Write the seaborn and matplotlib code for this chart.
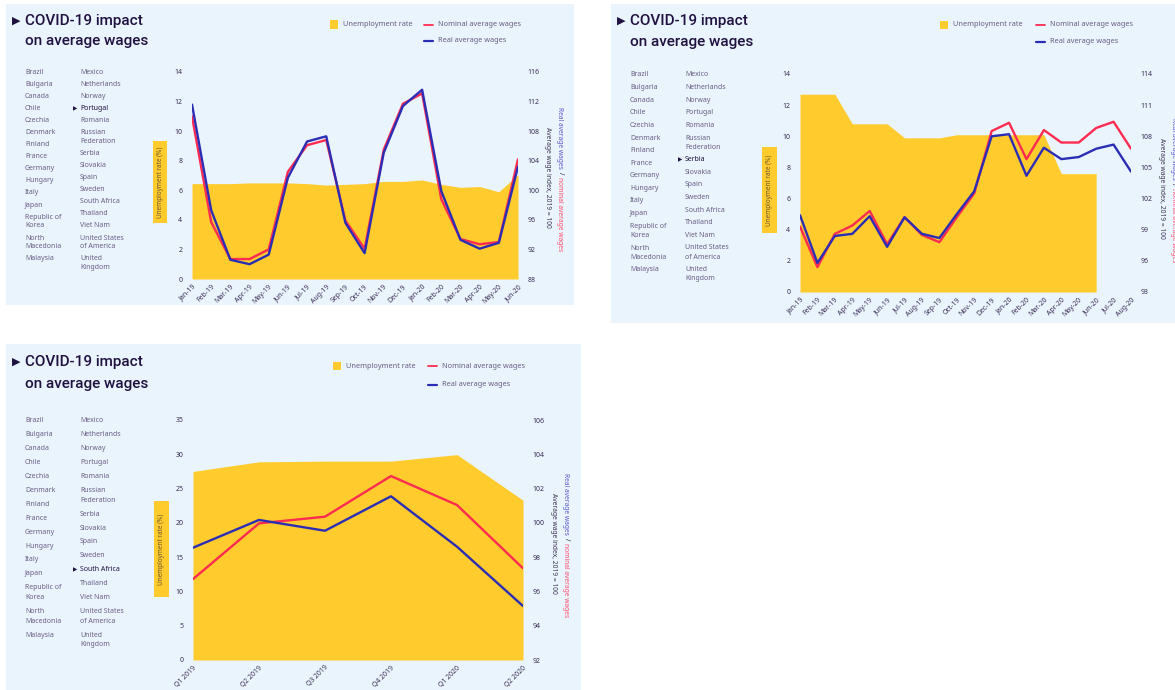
import numpy as np
import pandas as pd
import matplotlib
matplotlib.use("Agg")
import matplotlib.pyplot as plt
from matplotlib.patches import Rectangle
from matplotlib.lines import Line2D
import seaborn as sns

# ---------------- data ----------------
countries_col1 = ["Brazil", "Bulgaria", "Canada", "Chile", "Czechia", "Denmark", "Finland",
                  "France", "Germany", "Hungary", "Italy", "Japan", "Republic of\nKorea",
                  "North\nMacedonia", "Malaysia"]
countries_col2 = ["Mexico", "Netherlands", "Norway", "Portugal", "Romania", "Russian\nFederation",
                  "Serbia", "Slovakia", "Spain", "Sweden", "South Africa", "Thailand", "Viet Nam",
                  "United States\nof America", "United\nKingdom"]

# Portugal (monthly)
pt_months = ["Jan-19", "Feb-19", "Mar-19", "Apr-19", "May-19", "Jun-19", "Jul-19", "Aug-19",
             "Sep-19", "Oct-19", "Nov-19", "Dec-19", "Jan-20", "Feb-20", "Mar-20", "Apr-20",
             "May-20", "Jun-20"]
pt_unemployment = [6.45, 6.45, 6.45, 6.5, 6.5, 6.5, 6.45, 6.35, 6.4, 6.45, 6.6, 6.6, 6.7,
                   6.4, 6.2, 6.25, 5.9, 7.05]
pt_real = [111.6, 97.3, 90.6, 90.0, 91.3, 101.7, 106.6, 107.3, 95.6, 91.5, 105.1, 111.4,
           113.6, 99.9, 93.3, 92.1, 92.9, 103.2]
pt_nominal = [110.0, 95.7, 90.7, 90.7, 92.0, 102.5, 106.1, 106.8, 95.9, 92.1, 105.5, 111.7,
              113.1, 98.8, 93.4, 92.7, 93.0, 104.2]

# Serbia (monthly)
rs_months = ["Jan-19", "Feb-19", "Mar-19", "Apr-19", "May-19", "Jun-19", "Jul-19", "Aug-19",
             "Sep-19", "Oct-19", "Nov-19", "Dec-19", "Jan-20", "Feb-20", "Mar-20", "Apr-20",
             "May-20", "Jun-20", "Jul-20", "Aug-20"]
rs_unemployment = [12.7, 12.7, 12.7, 10.8, 10.8, 10.8, 9.9, 9.9, 9.9, 10.1, 10.1, 10.1, 10.1,
                   10.1, 10.1, 7.6, 7.6, 7.6, np.nan, np.nan]
rs_real = [100.4, 95.8, 98.4, 98.6, 100.3, 97.35, 100.2, 98.6, 98.2, 100.5, 102.7, 108.0,
           108.2, 104.2, 106.9, 105.8, 106.0, 106.8, 107.2, 104.6]
rs_nominal = [99.3, 95.4, 98.6, 99.4, 100.8, 97.6, 100.2, 98.5, 97.8, 100.2, 102.5, 108.5,
              109.3, 105.8, 108.6, 107.4, 107.4, 108.8, 109.4, 106.8]

# South Africa (quarterly)
za_quarters = ["Q1 2019", "Q2 2019", "Q3 2019", "Q4 2019", "Q1 2020", "Q2 2020"]
za_unemployment = [27.5, 28.9, 29.0, 29.0, 29.95, 23.3]
za_real = [98.55, 100.17, 99.54, 101.55, 98.61, 95.15]
za_nominal = [96.72, 99.97, 100.36, 102.73, 101.04, 97.35]

pt_left_ticks = [0, 2, 4, 6, 8, 10, 12, 14]
pt_right_ticks = [88, 92, 96, 100, 104, 108, 112, 116]
rs_left_ticks = [0, 2, 4, 6, 8, 10, 12, 14]
rs_right_ticks = [93, 96, 99, 102, 105, 108, 111, 114]
za_left_ticks = [0, 5, 10, 15, 20, 25, 30, 35]
za_right_ticks = [92, 94, 96, 98, 100, 102, 104, 106]

# ---------------- style ----------------
BG = "#EAF4FD"
YEL = "#FFCB2D"
RED = "#FF2B50"
BLUE = "#2B2EB4"
DARK = "#1F1140"
CTRY = "#6A5E85"
TICK = "#3A2E55"
LBL_BLUE = "#5A5AD0"
LBL_RED = "#FF4D6A"

sns.set_style("white")
plt.rcParams['font.family'] = ['Noto Sans', 'DejaVu Sans']

W, H = 1175, 690
fig = plt.figure(figsize=(W / 100, H / 100), dpi=100)
fig.patch.set_facecolor("white")


def fx(x):
    return x / W


def fy(y):
    return 1 - y / H


def right_label(xo, xi, yc, fs):
    renderer = fig.canvas.get_renderer()
    parts = [("Real average wages", LBL_BLUE), ("/", DARK), ("nominal average wages", LBL_RED)]
    gap = 3
    texts, lens = [], []
    for s, c in parts:
        t = fig.text(0, 0, s, rotation=270, fontsize=fs, color=c, ha="center", va="top")
        bb = t.get_window_extent(renderer)
        texts.append(t)
        lens.append(bb.height)
    total = sum(lens) + gap * (len(parts) - 1)
    ytop = yc - total / 2  # pixel from top
    for t, ln in zip(texts, lens):
        t.set_position((fx(xo), fy(ytop)))
        ytop += ln + gap
    fig.text(fx(xi), fy(yc - 2), "Average wage index, 2019 = 100", rotation=270, fontsize=fs,
             color="#3A3350", ha="center", va="center")


def draw_panel(L, xlabels, unemp, real, nominal, lticks, rticks, selected):
    x0, y0, x1, y1 = L["bg"]
    fig.add_artist(Rectangle((fx(x0), fy(y1)), (x1 - x0) / W, (y1 - y0) / H,
                             transform=fig.transFigure, facecolor=BG, edgecolor="none",
                             zorder=-10))
    # title
    tx, ty1, ty2 = L["title"]
    fig.text(fx(tx - 13), fy(ty1), "\u25B6", fontsize=8, color=DARK, va="center", ha="left",
             family="DejaVu Sans")
    fig.text(fx(tx), fy(ty1), "COVID-19 impact", fontsize=11, color=DARK, va="center",
             ha="left", family="Roboto", fontweight="medium")
    fig.text(fx(tx), fy(ty2), "on average wages", fontsize=11, color=DARK, va="center",
             ha="left", family="Roboto", fontweight="medium")
    # legend
    sqx, ly1, ly2, lnx = L["legend"]
    fig.add_artist(Rectangle((fx(sqx), fy(ly1 + 4)), 8 / W, 8 / H, transform=fig.transFigure,
                             facecolor=YEL, edgecolor="none"))
    fig.text(fx(sqx + 13), fy(ly1), "Unemployment rate", fontsize=5.3, color=CTRY,
             va="center", ha="left")
    fig.add_artist(Line2D([fx(lnx), fx(lnx + 9)], [fy(ly1), fy(ly1)], transform=fig.transFigure,
                          color=RED, lw=1.3))
    fig.text(fx(lnx + 14), fy(ly1), "Nominal average wages", fontsize=5.3, color=CTRY,
             va="center", ha="left")
    fig.add_artist(Line2D([fx(lnx), fx(lnx + 9)], [fy(ly2), fy(ly2)], transform=fig.transFigure,
                          color=BLUE, lw=1.6))
    fig.text(fx(lnx + 14), fy(ly2), "Real average wages", fontsize=5.3, color=CTRY,
             va="center", ha="left")
    # country list
    c1x, c2x, cy0, step, lstep = L["countries"]
    for colx, names in ((c1x, countries_col1), (c2x, countries_col2)):
        y = cy0
        for name in names:
            lines = name.split("\n")
            sel = name == selected
            if sel:
                fig.text(fx(colx - 7), fy(y), "\u25B6", fontsize=4, color=DARK, va="center",
                         ha="left", family="DejaVu Sans")
            for k, ln in enumerate(lines):
                fig.text(fx(colx), fy(y + k * lstep), ln, fontsize=5, va="center", ha="left",
                         color=DARK if sel else CTRY, fontweight="bold" if sel else "normal")
            y += step + lstep * (len(lines) - 1)
    # y-label box
    bx0, by0, bx1, by1 = L["ybox"]
    fig.add_artist(Rectangle((fx(bx0), fy(by1)), (bx1 - bx0) / W, (by1 - by0) / H,
                             transform=fig.transFigure, facecolor=YEL, edgecolor="none"))
    fig.text(fx((bx0 + bx1) / 2), fy((by0 + by1) / 2), "Unemployment rate (%)", rotation=90,
             fontsize=4.6, color="#6B5530", ha="center", va="center")
    # axes
    al, at, ar, ab = L["axes"]
    ax = fig.add_axes([fx(al), fy(ab), (ar - al) / W, (ab - at) / H])
    ax.patch.set_visible(False)
    n = len(xlabels)
    xs = np.arange(n)
    ax.fill_between(xs, unemp, 0, color=YEL, lw=0)
    ax.set_xlim(0, n - 1)
    ax.set_ylim(lticks[0], lticks[-1])
    ax.set_yticks(lticks)
    ax.set_xticks(xs)
    ax.set_xticklabels(xlabels, rotation=45, ha="right", rotation_mode="anchor")
    ax.tick_params(axis="y", length=0, pad=7, labelsize=5, labelcolor=TICK)
    ax.tick_params(axis="x", length=0, pad=3, labelsize=5, labelcolor=TICK)
    for s in ax.spines.values():
        s.set_visible(False)
    ax2 = ax.twinx()
    ax2.patch.set_visible(False)
    df = pd.DataFrame({"x": xs, "real": real, "nominal": nominal})
    sns.lineplot(data=df, x="x", y="nominal", ax=ax2, color=RED, lw=1.7)
    sns.lineplot(data=df, x="x", y="real", ax=ax2, color=BLUE, lw=1.7)
    ax2.set_ylim(rticks[0], rticks[-1])
    ax2.set_yticks(rticks)
    ax2.tick_params(axis="y", length=0, pad=7, labelsize=5, labelcolor=TICK)
    ax2.set_xlabel("")
    ax2.set_ylabel("")
    ax.set_xlabel("")
    ax.set_ylabel("")
    for s in ax2.spines.values():
        s.set_visible(False)
    xo, xi, yc = L["rlabel"]
    right_label(xo, xi, yc, 4.8)


layout_pt = dict(bg=(6, 4, 574, 305), title=(25, 21, 41), legend=(330, 24.5, 40.5, 424),
                 countries=(25, 80, 72, 12.1, 8.8), ybox=(153, 141, 167, 223),
                 axes=(192, 72, 518, 279), rlabel=(560, 548, 179))
layout_rs = dict(bg=(611, 4, 1175, 323), title=(630, 21, 42), legend=(940, 25, 41.5, 1036),
                 countries=(630, 685, 75, 12.6, 9.2), ybox=(762, 147, 777, 233),
                 axes=(800, 74, 1131, 292), rlabel=(1173, 1161, 190))
layout_za = dict(bg=(6, 344, 581, 690), title=(25, 362, 384), legend=(333, 366, 384.5, 428),
                 countries=(25, 80, 421, 13.9, 9.8), ybox=(154, 501, 169, 597),
                 axes=(193, 420, 523, 660), rlabel=(566, 553, 545))

draw_panel(layout_pt, pt_months, pt_unemployment, pt_real, pt_nominal,
           pt_left_ticks, pt_right_ticks, "Portugal")
draw_panel(layout_rs, rs_months, rs_unemployment, rs_real, rs_nominal,
           rs_left_ticks, rs_right_ticks, "Serbia")
draw_panel(layout_za, za_quarters, za_unemployment, za_real, za_nominal,
           za_left_ticks, za_right_ticks, "South Africa")

fig.savefig("out.png", dpi=100, facecolor="white")
